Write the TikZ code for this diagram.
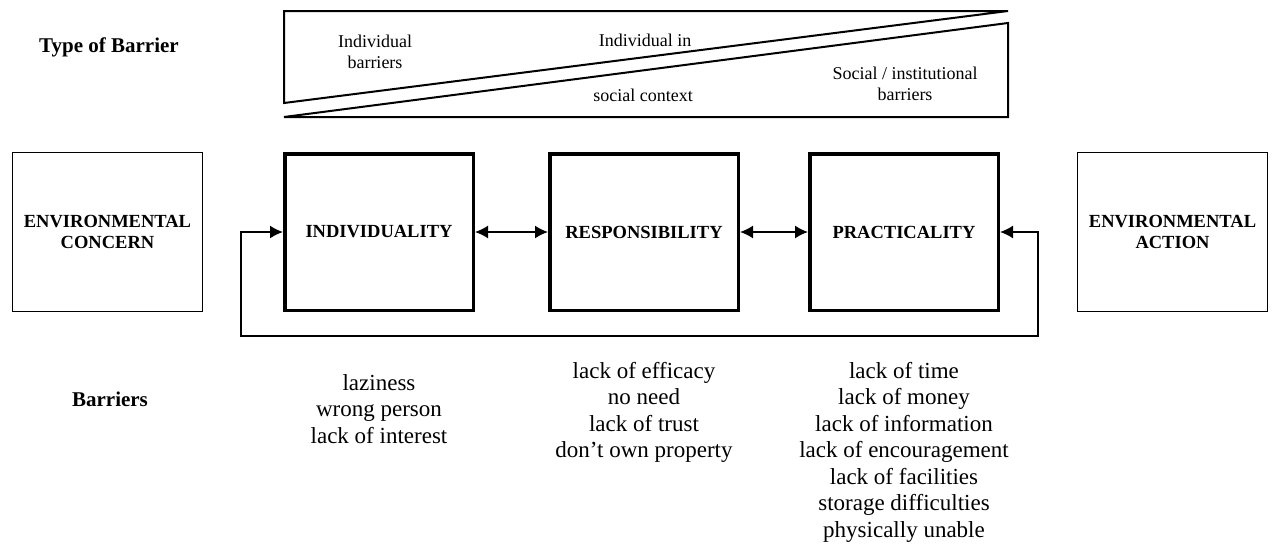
\documentclass[tikz,border=0pt]{standalone}
\usepackage{fontspec}
\setmainfont{Liberation Serif}
\usetikzlibrary{arrows.meta}

\tikzset{
  endbox/.style={draw, line width=1.3pt, minimum width=190pt, minimum height=159pt,
    inner sep=0pt, align=center, font=\fontsize{18.5}{21}\selectfont\bfseries},
  stagebox/.style={draw, line width=3.5pt, minimum width=188.5pt, minimum height=156.5pt,
    inner sep=0pt, font=\fontsize{18.5}{21}\selectfont\bfseries},
  rowlabel/.style={inner sep=0pt, font=\fontsize{21}{24}\selectfont\bfseries},
  barrierlist/.style={anchor=north, align=center, inner sep=0pt, font=\fontsize{23}{26.5}\selectfont},
  wedgetext/.style={align=center, inner sep=0pt, font=\fontsize{18}{20.5}\selectfont},
  link/.style={line width=1.6pt, {Latex[length=13pt,width=13pt]}-{Latex[length=13pt,width=13pt]}}
}

\begin{document}
\begin{tikzpicture}[x=1pt, y=-1pt]
        \useasboundingbox (0,0) rectangle (1275,549);

        % row labels
        \node[rowlabel] (typelabel) at (109,47) {Type of Barrier};
        \node[rowlabel] (barrierlabel) at (110,399) {Barriers};

        % the two wedges
        \coordinate (wTL) at (284,11);
        \coordinate (wTR) at (1008,11);
        \coordinate (wML) at (284,103);
        \coordinate (wBL) at (284,117);
        \coordinate (wMR) at (1008,23);
        \coordinate (wBR) at (1008,117);
        \draw[line width=2pt] (wTL) -- (wTR) -- (wML) -- cycle;
        \draw[line width=2pt] (wBL) -- (wMR) -- (wBR) -- cycle;
        \node[wedgetext] (wIndiv) at (375,52) {Individual\\barriers};
        \node[wedgetext] (wCtxA) at (645,40) {Individual in};
        \node[wedgetext] (wCtxB) at (643,95) {social context};
        \node[wedgetext] (wSocial) at (905,84) {Social / institutional\\barriers};

        % boxes
        \node[endbox] (concern) at (107.5,232) {ENVIRONMENTAL\\CONCERN};
        \node[stagebox] (indiv) at (379,232) {INDIVIDUALITY};
        \node[stagebox] (resp) at (644,232) {RESPONSIBILITY};
        \node[stagebox] (pract) at (904,232) {PRACTICALITY};
        \node[endbox] (action) at (1172.5,232) {ENVIRONMENTAL\\ACTION};

        % links between the stages
        \draw[link] (indiv) -- (resp);
        \draw[link] (resp) -- (pract);
        % feedback loop underneath
        \coordinate (loopR) at (1038,336);
        \coordinate (loopL) at (241,336);
        \draw[link] (pract.east) -| (loopR) -- (loopL) |- (indiv.west);

        % barrier lists
        \node[barrierlist] (listIndiv) at (379,374) {laziness\\wrong person\\lack of interest};
        \node[barrierlist] (listResp) at (644,362) {lack of efficacy\\no need\\lack of trust\\don’t own property};
        \node[barrierlist] (listPract) at (904,362) {lack of time\\lack of money\\lack of information\\lack of encouragement\\lack of facilities\\storage difficulties\\physically unable};
\end{tikzpicture}
\end{document}
